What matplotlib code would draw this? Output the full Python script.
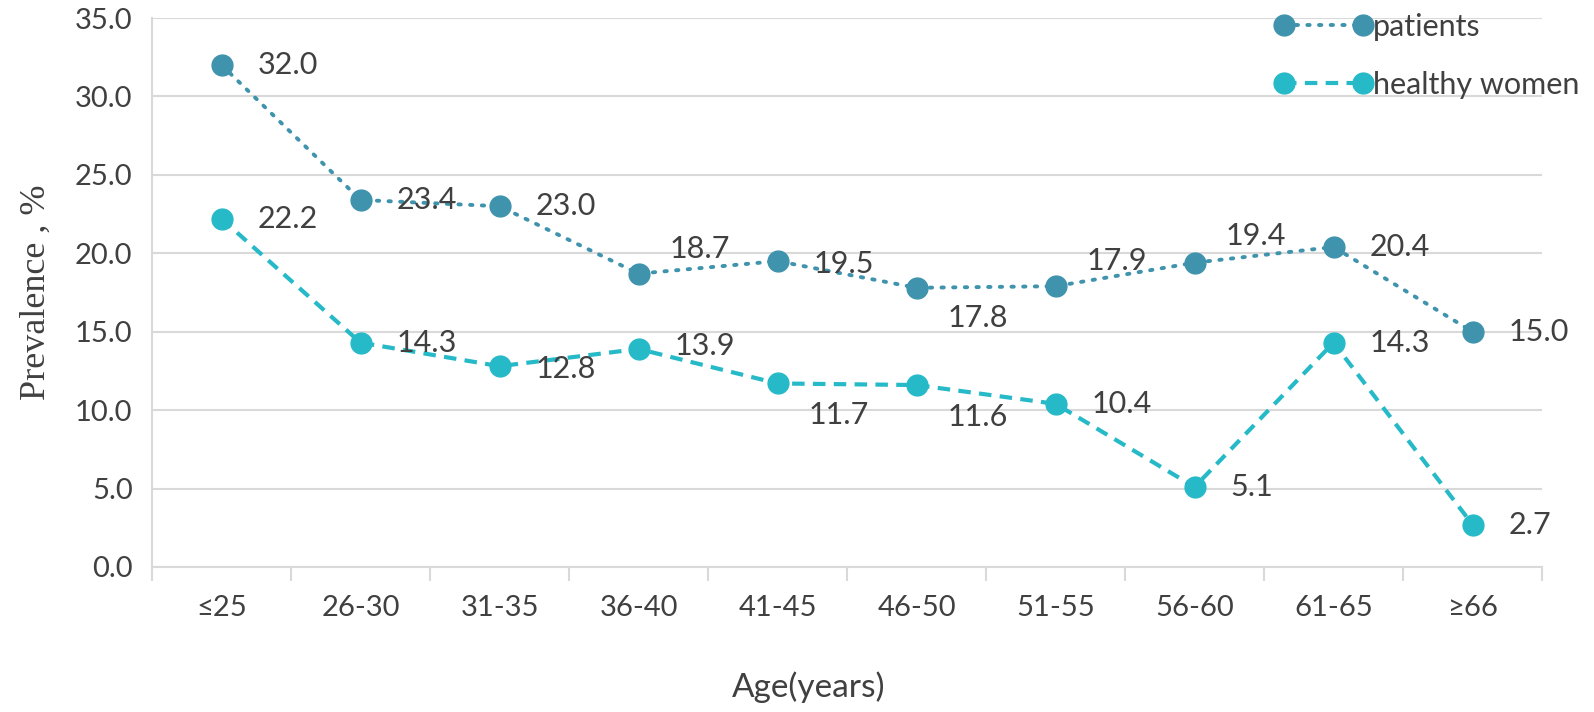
import matplotlib.pyplot as plt
import numpy as np

age_groups = ["≤25", "26-30", "31-35", "36-40", "41-45", "46-50", "51-55", "56-60", "61-65", "≥66"]
patients = [32.0, 23.4, 23.0, 18.7, 19.5, 17.8, 17.9, 19.4, 20.4, 15.0]
healthy_women = [22.2, 14.3, 12.8, 13.9, 11.7, 11.6, 10.4, 5.1, 14.3, 2.7]

# label offsets in points (dx, dy)
off_pat = [(26, 0), (26, 0), (26, 0), (22, 18), (26, -2), (22, -22), (22, 18), (22, 19), (26, 0), (26, 0)]
off_hw = [(26, 0), (26, 0), (26, -2), (26, 2), (22, -23), (22, -23), (26, 0), (26, 0), (26, 0), (26, 0)]

c_pat = "#3f93ad"
c_hw = "#26bac8"
txt = "#404040"
grid_c = "#d9d9d9"
sans = "Lato"

fig = plt.figure(figsize=(15.94, 7.12), dpi=100)
ax = fig.add_axes([0.0954, 0.2037, 0.8720, 0.7710])

x = np.arange(len(age_groups))
ax.plot(x, patients, color=c_pat, lw=2.8, linestyle=(0, (0.6, 2.4)), dash_capstyle="round",
        marker="o", markersize=15, label="patients", zorder=3)
ax.plot(x, healthy_women, color=c_hw, lw=3, linestyle=(0, (3, 2)),
        marker="o", markersize=15, label="healthy women", zorder=3)

for i in range(len(x)):
    ax.annotate(f"{patients[i]:.1f}", (x[i], patients[i]), xytext=off_pat[i], textcoords="offset points",
                ha="left", va="center", fontsize=22, color=txt, family=sans, zorder=4)
    ax.annotate(f"{healthy_women[i]:.1f}", (x[i], healthy_women[i]), xytext=off_hw[i], textcoords="offset points",
                ha="left", va="center", fontsize=22, color=txt, family=sans, zorder=4)

ax.set_xlim(-0.5, len(age_groups) - 0.5)
ax.set_ylim(0, 35)
ax.set_yticks(np.arange(0, 35.1, 5))
ax.set_yticklabels([f"{v:.1f}" for v in np.arange(0, 35.1, 5)], family=sans, fontsize=21, color=txt)
ax.yaxis.grid(True, color=grid_c, lw=1.5)
ax.set_axisbelow(True)

ax.set_xticks(np.arange(-0.5, len(age_groups), 1))
ax.set_xticklabels([])
ax.set_xticks(x, minor=True)
ax.set_xticklabels(age_groups, minor=True, family=sans, fontsize=21, color=txt)
ax.tick_params(axis="x", which="major", length=10, width=1.5, color=grid_c, direction="out")
ax.tick_params(axis="x", which="minor", length=0, pad=20)
ax.tick_params(axis="y", length=0, pad=14)

for s in ["top", "right"]:
    ax.spines[s].set_visible(False)
for s in ["left", "bottom"]:
    ax.spines[s].set_color(grid_c)
    ax.spines[s].set_linewidth(1.5)

ax.set_ylabel("Prevalence , %", family="Liberation Serif", fontsize=26, color=txt, labelpad=16)
fig.text(0.507, 0.012, "Age(years)", family=sans, fontsize=24, color=txt, ha="center", va="bottom")

leg = ax.legend(loc="upper left", bbox_to_anchor=(0.788, 1.06), numpoints=2, handlelength=3.2,
                handletextpad=0.0, labelspacing=1.0, frameon=False,
                prop={"family": sans, "size": 22})
for t in leg.get_texts():
    t.set_color(txt)

fig.savefig("out.png", dpi=100)
